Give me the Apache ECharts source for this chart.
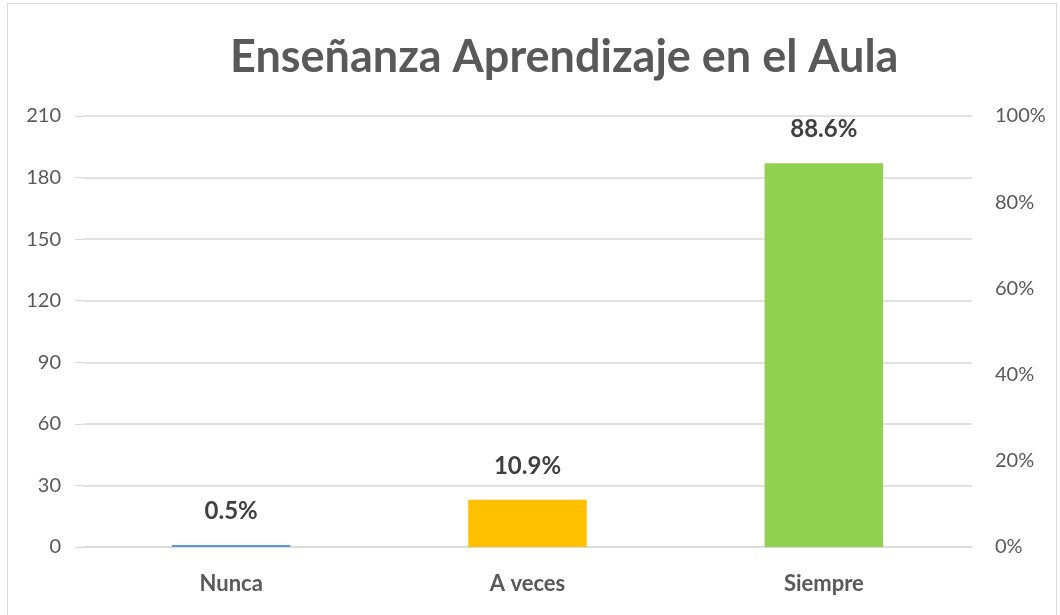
<!DOCTYPE html>
<html>
<head>
<meta charset="utf-8">
<script src="https://cdn.jsdelivr.net/npm/echarts@6/dist/echarts.min.js"></script>
<style>
    html, body { margin: 0; padding: 0; background: #fff; }
    #chart { position: absolute; left: 0; top: 0; width: 1060px; height: 615px; }
    #frame { position: absolute; left: 7px; top: 3px; width: 1050px; height: 620px; border: 1px solid #d9d9d9; box-sizing: border-box; }
</style>
</head>
<body>
<div id="frame"></div>
<div id="chart"></div>
<script>
// datos
const categorias = ['Nunca', 'A veces', 'Siempre'];
const cantidades = [1, 23, 187];
const colores = ['#5b9bd5', '#ffc000', '#92d050'];
const ticksIzq = [0, 30, 60, 90, 120, 150, 180, 210];
const ticksDer = [0, 20, 40, 60, 80, 100];

const total = cantidades.reduce((a, b) => a + b, 0);
const fuente = 'Lato';

const myChart = echarts.init(document.getElementById('chart'));
myChart.setOption({
    animation: false,
    title: {
        text: 'Enseñanza Aprendizaje en el Aula',
        left: 225,
        top: 30,
        textStyle: { fontFamily: fuente, fontSize: 45, fontWeight: 'bold', color: '#595959' }
    },
    grid: { left: 83, right: 88, top: 116, bottom: 68 },
    xAxis: [{
        type: 'category',
        data: categorias,
        axisLine: { lineStyle: { color: '#d9d9d9', width: 1.5 } },
        axisTick: { length: 8, lineStyle: { color: '#d9d9d9', width: 1.5 } },
        axisLabel: { fontFamily: fuente, fontSize: 22, fontWeight: 'bold', color: '#595959', margin: 26 }
    }, {
        // segunda fila de marcas en el centro de cada categoria
        type: 'category',
        data: categorias,
        position: 'bottom',
        axisLine: { show: false },
        axisTick: { alignWithLabel: true, length: 8, lineStyle: { color: '#d9d9d9', width: 1.5 } },
        axisLabel: { show: false }
    }],
    yAxis: [{
        type: 'value',
        min: ticksIzq[0],
        max: ticksIzq[ticksIzq.length - 1],
        interval: 30,
        axisLine: { show: false },
        axisTick: { show: true, length: 8, lineStyle: { color: '#d9d9d9' } },
        axisLabel: { fontFamily: fuente, fontSize: 20, color: '#595959', margin: 22 },
        splitLine: { lineStyle: { color: '#d9d9d9', width: 1.5 } }
    }, {
        type: 'value',
        min: ticksDer[0],
        max: ticksDer[ticksDer.length - 1],
        interval: 20,
        position: 'right',
        axisLine: { show: false },
        axisTick: { show: false },
        axisLabel: { fontFamily: fuente, fontSize: 20, color: '#595959', margin: 23, formatter: '{value}%' },
        splitLine: { show: false }
    }],
    series: [{
        type: 'bar',
        xAxisIndex: 0,
        yAxisIndex: 0,
        barWidth: '40%',
        data: cantidades.map((v, i) => ({ value: v, itemStyle: { color: colores[i] } })),
        label: {
            show: true,
            position: 'top',
            distance: 22,
            fontFamily: fuente,
            fontSize: 24,
            fontWeight: 'bold',
            color: '#404040',
            formatter: p => (p.value / total * 100).toFixed(1) + '%'
        }
    }]
});
</script>
</body>
</html>
